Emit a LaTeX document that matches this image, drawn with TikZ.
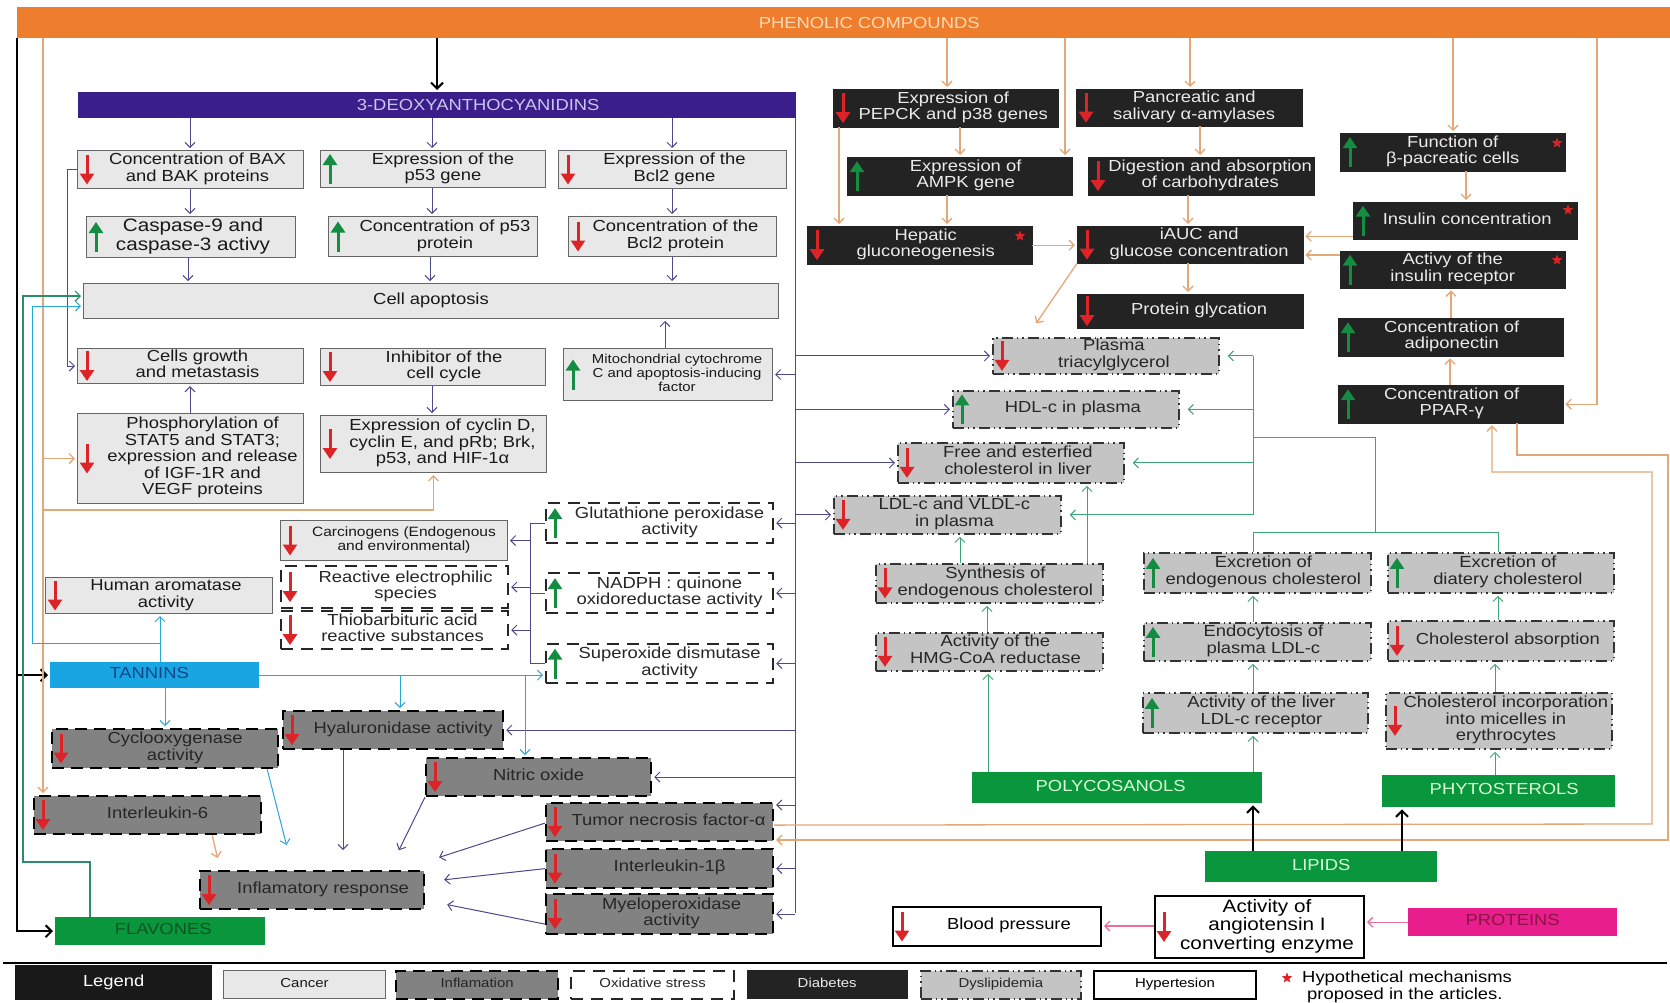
\documentclass[tikz,border=0pt]{standalone}
\usepackage{fontspec}
\setmainfont{Liberation Sans}[FakeStretch=1.15]
\usetikzlibrary{arrows.meta,shapes.geometric}
\definecolor{orng}{RGB}{238,125,45}
\definecolor{peach}{RGB}{255,218,180}
\definecolor{indigo}{RGB}{58,30,138}
\definecolor{lav}{RGB}{205,195,240}
\definecolor{ptan}{RGB}{228,168,120}
\definecolor{purp}{RGB}{78,72,140}
\definecolor{grln}{RGB}{60,165,115}
\definecolor{blln}{RGB}{40,168,218}
\definecolor{tlln}{RGB}{45,140,105}
\definecolor{pkln}{RGB}{232,110,155}
\definecolor{cang}{RGB}{232,232,232}
\definecolor{infg}{RGB}{130,130,130}
\definecolor{dysg}{RGB}{196,196,196}
\definecolor{diab}{RGB}{35,35,35}
\definecolor{rdar}{RGB}{220,35,40}
\definecolor{gnar}{RGB}{20,140,65}
\definecolor{grp}{RGB}{10,150,60}
\definecolor{tanb}{RGB}{25,165,225}
\definecolor{magn}{RGB}{232,30,140}
\newcommand\fsn{\fontsize{16}{16.5}\selectfont}
\newcommand\fsl{\fontsize{13}{14}\selectfont}
\newcommand\bx[8]{\node[#1,minimum width={#5-#3},minimum height={#6-#4},anchor=north west] (#2) at (#3,#4) {\hspace*{#7pt}\begin{tabular}{@{}c@{}}#8\end{tabular}};}
\newcommand\ardn[1]{\draw[redarr] ([xshift=10pt,yshift=15pt]#1.west) -- ([xshift=10pt,yshift=-15pt]#1.west);}
\newcommand\arup[1]{\draw[grnarr] ([xshift=10pt,yshift=-15pt]#1.west) -- ([xshift=10pt,yshift=15pt]#1.west);}
\tikzset{
 base/.style={rectangle, inner sep=1pt, align=center, font=\fsn},
 cb/.style={base, fill=cang, draw=black!60, line width=1pt, text=black!90},
 inf/.style={base, fill=infg, draw=black, line width=2.2pt, dash pattern=on 12pt off 7pt, text=black!85},
 ox/.style={base, fill=white, draw=black!85, line width=2.2pt, dash pattern=on 12pt off 8pt, text=black!85},
 db/.style={base, fill=diab, draw=diab, text=white!92!black},
 dy/.style={base, fill=dysg, draw=black!80, line width=1.8pt, dash pattern=on 11pt off 4pt on 1.5pt off 4pt on 1.5pt off 4pt, text=black!85},
 hy/.style={base, fill=white, draw=black, line width=2pt, text=black},
 grpb/.style={base, inner sep=0pt},
 redarr/.style={draw=rdar, line width=3pt, -{Triangle[length=11pt,width=14pt]}},
 grnarr/.style={draw=gnar, line width=3pt, -{Triangle[length=11pt,width=14pt]}},
 conn/.style={line width=1pt, -{Straight Barb[length=5pt,width=10pt]}, shorten >=2pt},
 pa/.style={conn, draw=purp},
 pl/.style={line width=1pt, draw=purp},
 oa/.style={conn, draw=ptan, line width=1.3pt},
 ga/.style={conn, draw=grln},
 gl/.style={line width=1pt, draw=grln},
 ba/.style={conn, draw=blln},
 ta/.style={conn, draw=tlln, line width=1.2pt},
 pk/.style={conn, draw=pkln, line width=1.3pt},
 ka/.style={line width=2pt, draw=black, -{Straight Barb[length=6pt,width=12pt]}, shorten >=2pt},
 rstar/.style={star, star points=5, star point ratio=2.3, fill=rdar, inner sep=0pt, minimum size=11pt}
}
\begin{document}
\begin{tikzpicture}[x=1pt,y=-1pt]
\fill[white] (0,0) rectangle (1670,1002);
\useasboundingbox (0,0) rectangle (1670,1002);

% headers
\node[rectangle, fill=orng, minimum width=1653, minimum height=31, anchor=north west, inner sep=0, text=peach, font=\fsn] (phenbar) at (17,7) {\hspace*{51pt}PHENOLIC COMPOUNDS};
\node[rectangle, fill=indigo, minimum width=718, minimum height=26, anchor=north west, inner sep=0, text=lav, font=\fsn] (deoxy) at (78,92) {\hspace*{82pt}3-DEOXYANTHOCYANIDINS};

% cancer
\bx{cb}{bax}{77}{150}{303}{188}{14}{Concentration of BAX\\and BAK proteins}
\bx{cb}{p53g}{320}{150}{545}{187}{20}{Expression of the\\p53 gene}
\bx{cb}{bcl2g}{558}{150}{786}{188}{4}{Expression of the\\Bcl2 gene}
\bx{cb,font=\fontsize{18}{19}\selectfont}{casp}{86}{216}{295}{257}{4}{Caspase-9 and\\caspase-3 activy}
\bx{cb}{p53p}{328}{216}{537}{256}{24}{Concentration of p53\\protein}
\bx{cb}{bcl2p}{568}{216}{776}{256}{6}{Concentration of the\\Bcl2 protein}
\bx{cb}{apop}{83}{283}{778}{318}{0}{Cell apoptosis}
\bx{cb}{cells}{77}{348}{303}{383}{14}{Cells growth\\and metastasis}
\bx{cb}{inhib}{320}{348}{545}{385}{22}{Inhibitor of the\\cell cycle}
\bx{cb,font=\fontsize{13}{14}\selectfont}{mito}{563}{348}{772}{400}{18}{Mitochondrial cytochrome\\C and apoptosis-inducing\\factor}
\bx{cb}{phos}{77}{413}{303}{503}{24}{Phosphorylation of\\STAT5 and STAT3;\\expression and release\\of IGF-1R and\\VEGF proteins}
\bx{cb}{cyc}{320}{415}{546}{472}{18}{Expression of cyclin D,\\cyclin E, and pRb; Brk,\\p53, and HIF-1α}
\bx{cb}{arom}{45}{577}{272}{613}{14}{Human aromatase\\activity}
\bx{cb,font=\fontsize{13.5}{14.5}\selectfont}{carc}{280}{520}{507}{560}{20}{Carcinogens (Endogenous\\and environmental)}

% oxidative stress
\bx{ox}{reac}{280}{565}{507}{607}{22}{Reactive electrophilic\\species}
\bx{ox}{thio}{280}{610}{507}{648}{16}{Thiobarbituric acid\\reactive substances}
\bx{ox}{glut}{545}{502}{772}{542}{20}{Glutathione peroxidase\\activity}
\bx{ox}{nadph}{545}{572}{772}{612}{20}{NADPH : quinone\\oxidoreductase activity}
\bx{ox}{sod}{545}{643}{772}{682}{20}{Superoxide dismutase\\activity}

% inflammation
\bx{inf}{cox}{51}{728}{277}{767}{20}{Cyclooxygenase\\activity}
\bx{inf}{il6}{33}{795}{260}{833}{20}{Interleukin-6}
\bx{inf}{hyal}{282}{710}{502}{748}{20}{Hyaluronidase activity}
\bx{inf}{no}{425}{757}{650}{795}{0}{Nitric oxide}
\bx{inf}{infl}{199}{870}{423}{908}{22}{Inflamatory response}
\bx{inf}{tnf}{545}{802}{772}{840}{18}{Tumor necrosis factor-α}
\bx{inf}{il1}{545}{848}{772}{887}{20}{Interleukin-1β}
\bx{inf}{mpo}{545}{893}{772}{933}{24}{Myeloperoxidase\\activity}

% diabetes
\bx{db}{pepck}{833}{89}{1058}{127}{15}{Expression of\\PEPCK and p38 genes}
\bx{db}{panc}{1076}{89}{1302}{126}{10}{Pancreatic and\\salivary α-amylases}
\bx{db}{ampk}{847}{157}{1072}{195}{12}{Expression of\\AMPK gene}
\bx{db}{dig}{1088}{157}{1314}{195}{18}{Digestion and absorption\\of carbohydrates}
\bx{db}{hep}{807}{226}{1032}{264}{12}{Hepatic\\gluconeogenesis}
\bx{db}{iauc}{1077}{226}{1303}{263}{18}{iAUC and\\glucose concentration}
\bx{db}{glyc}{1077}{294}{1303}{328}{18}{Protein glycation}
\bx{db}{func}{1340}{133}{1565}{171}{0}{Function of\\β-pacreatic cells}
\bx{db}{ins}{1353}{202}{1577}{239}{4}{Insulin concentration}
\bx{db}{insr}{1340}{251}{1565}{288}{0}{Activy of the\\insulin receptor}
\bx{db}{adip}{1338}{318}{1563}{356}{2}{Concentration of\\adiponectin}
\bx{db}{ppar}{1338}{385}{1563}{423}{2}{Concentration of\\PPAR-γ}

% dyslipidemia
\bx{dy}{ptag}{992}{337}{1218}{373}{16}{Plasma\\triacylglycerol}
\bx{dy}{hdl}{952}{390}{1178}{427}{14}{HDL-c in plasma}
\bx{dy}{free}{897}{442}{1123}{482}{14}{Free and esterfied\\cholesterol in liver}
\bx{dy}{ldl}{833}{495}{1060}{533}{14}{LDL-c and VLDL-c\\in plasma}
\bx{dy}{synth}{875}{563}{1102}{602}{12}{Synthesis of\\endogenous cholesterol}
\bx{dy}{hmg}{875}{632}{1102}{670}{12}{Activity of the\\HMG-CoA reductase}
\bx{dy}{exen}{1143}{552}{1370}{592}{12}{Excretion of\\endogenous cholesterol}
\bx{dy}{exdi}{1387}{552}{1613}{592}{14}{Excretion of\\diatery cholesterol}
\bx{dy}{endo}{1143}{622}{1370}{660}{12}{Endocytosis of\\plasma LDL-c}
\bx{dy}{abs}{1387}{620}{1613}{660}{14}{Cholesterol absorption}
\bx{dy}{ldlr}{1142}{692}{1367}{732}{12}{Activity of the liver\\LDL-c receptor}
\bx{dy}{mic}{1385}{692}{1611}{748}{14}{Cholesterol incorporation\\into micelles in\\erythrocytes}

% hypertension
\bx{hy}{bp}{892}{906}{1100}{945}{24}{Blood pressure}
\bx{hy,font=\fontsize{18}{18.5}\selectfont}{ace}{1154}{895}{1363}{957}{15}{Activity of\\angiotensin I\\converting enzyme}

% compound groups
\bx{grpb,fill=grp,text={rgb,255:red,215;green,255;blue,215}}{poly}{972}{772}{1262}{803}{-13}{POLYCOSANOLS}
\bx{grpb,fill=grp,text={rgb,255:red,215;green,255;blue,215}}{phyto}{1382}{775}{1615}{807}{11}{PHYTOSTEROLS}
\bx{grpb,fill=grp,text={rgb,255:red,215;green,255;blue,215}}{lipids}{1205}{851}{1437}{882}{0}{LIPIDS}
\bx{grpb,fill=tanb,text={rgb,255:red,15;green,70;blue,140}}{tann}{50}{662}{259}{688}{-11}{TANNINS}
\bx{grpb,fill=grp,text={rgb,255:red,15;green,85;blue,35}}{flav}{55}{917}{265}{945}{6}{FLAVONES}
\bx{grpb,fill=magn,text={rgb,255:red,140;green,20;blue,70}}{prot}{1408}{908}{1617}{936}{0}{PROTEINS}

% box arrows
\foreach \n in {bax,bcl2g,bcl2p,cells,inhib,phos,cyc,arom,carc,reac,thio,cox,il6,hyal,no,infl,tnf,il1,mpo,pepck,panc,dig,hep,iauc,glyc,ptag,free,ldl,synth,hmg,abs,mic,bp,ace} {\ardn{\n}}
\foreach \n in {p53g,casp,p53p,mito,glut,nadph,sod,ampk,func,ins,insr,adip,ppar,hdl,exen,exdi,endo,ldlr} {\arup{\n}}

% stars
\node[rstar] (st1) at (1020,236) {};
\node[rstar] (st2) at (1557,143) {};
\node[rstar] (st3) at (1568,210) {};
\node[rstar] (st4) at (1557,260) {};

% black
\draw[ka] (17,0 |- phenbar.south) |- (flav.west);
\draw[ka] (17,0 |- tann.west) -- (tann.west);
\draw[ka] (437,0 |- phenbar.south) -- (437,0 |- deoxy.north);

% purple 3-deoxy
\draw[pa] (190,0 |- deoxy.south) -- (190,0 |- bax.north);
\draw[pa] (432,0 |- deoxy.south) -- (432,0 |- p53g.north);
\draw[pa] (672,0 |- deoxy.south) -- (672,0 |- bcl2g.north);
\draw[pa] (190,0 |- bax.south) -- (190,0 |- casp.north);
\draw[pa] (188,0 |- casp.south) -- (188,0 |- apop.north);
\draw[pa] (432,0 |- p53g.south) -- (432,0 |- p53p.north);
\draw[pa] (430,0 |- p53p.south) -- (430,0 |- apop.north);
\draw[pa] (672,0 |- bcl2g.south) -- (672,0 |- bcl2p.north);
\draw[pa] (672,0 |- bcl2p.south) -- (672,0 |- apop.north);
\draw[pa] (665,0 |- mito.north) -- (665,0 |- apop.south);
\draw[pa] (bax.west) -- (67,0 |- bax.west) |- (cells.west);
\draw[pa] (190,0 |- phos.north) -- (190,0 |- cells.south);
\draw[pa] (432,0 |- inhib.south) -- (432,0 |- cyc.north);
\coordinate (mainbot) at (795,913);
\draw[pl] (795,0 |- deoxy.south) -- (mainbot);
\foreach \n in {mito,glut,nadph,sod,hyal,no,il1,mpo} {\draw[pa] (795,0 |- \n.east) -- (\n.east);}
\draw[pa] (795,805) -- (tnf.east |- 0,805);
\foreach \n in {ptag,hdl,free,ldl} {\draw[pa] (795,0 |- \n.west) -- (\n.west);}

% oxidative internal
\draw[pl] (glut.west) -- (530,0 |- glut.west) -- (530,0 |- sod.west) -- (sod.west);
\draw[pl] (nadph.west) -- (530,0 |- nadph.west);
\foreach \n in {carc,reac,thio} {\draw[pa] (530,0 |- \n.east) -- (\n.east);}

% orange left
\draw[oa] (43,0 |- phenbar.south) -- (43,0 |- il6.north);
\draw[oa] (43,0 |- phos.west) -- (phos.west);
\draw[oa] (43,510) -| (cyc.south);

% tannins
\draw[ba] (160,0 |- tann.north) -- (160,0 |- arom.south);
\draw[ba] (160,643) -- (32,643) |- ([yshift=-5pt]apop.west);
\draw[ba] (165,0 |- tann.south) -- (165,0 |- cox.north);
\draw[ba] (tann.east) -- (tann.east -| sod.west);
\draw[ba] (400,0 |- tann.east) -- (400,0 |- hyal.north);
\draw[ba] (525,0 |- tann.east) -- (525,0 |- no.north);
\draw[ba] ([xshift=-12pt]cox.south east) -- ([xshift=88pt,yshift=23pt]infl.north west);

% flavones
\draw[ta] (90,0 |- flav.north) |- (23,862) |- ([yshift=5pt]apop.west);

% inflammation links
\draw[oa] ([xshift=-50pt]il6.south east) -- ([xshift=19pt,yshift=10pt]infl.north west);
\draw[pa] (343,0 |- hyal.south) -- ([xshift=144pt,yshift=18pt]infl.north west);
\draw[pa] (no.south west) -- ([xshift=199pt,yshift=18pt]infl.north west);
\draw[pa] ([yshift=-1pt]tnf.west) -- ([xshift=12pt,yshift=12pt]infl.north east);
\draw[pa] (il1.west) -- ([xshift=17pt,yshift=-10pt]infl.north east);
\draw[pa] ([yshift=-10pt]mpo.west) -- ([xshift=20pt,yshift=6pt]infl.south east);

% diabetes
\draw[oa] (947,0 |- phenbar.south) -- (947,0 |- pepck.north);
\draw[oa] (1065,0 |- phenbar.south) -- (1065,0 |- ampk.north);
\draw[oa] (1190,0 |- phenbar.south) -- (1190,0 |- panc.north);
\draw[oa] (960,0 |- pepck.south) -- (960,0 |- ampk.north);
\draw[oa] (839,0 |- pepck.south) -- (839,0 |- hep.north);
\draw[oa] (947,0 |- ampk.south) -- (947,0 |- hep.north);
\draw[oa] (hep.east) -- (hep.east -| iauc.west);
\draw[oa] (1200,0 |- panc.south) -- (1200,0 |- dig.north);
\draw[oa] (1188,0 |- dig.south) -- (1188,0 |- iauc.north);
\draw[oa] (1188,0 |- iauc.south) -- (1188,0 |- glyc.north);
\draw[oa] (iauc.south west) -- ([xshift=43pt,yshift=12pt]ptag.north west);
\draw[oa] (1453,0 |- phenbar.south) -- (1453,0 |- func.north);
\draw[oa] (1466,0 |- func.south) -- (1466,0 |- ins.north);
\draw[oa] ([yshift=3pt]ins.south west) -- ([yshift=3pt]ins.south west -| iauc.east);
\draw[oa] ([yshift=-4pt]insr.north west) -- ([yshift=-4pt]insr.north west -| iauc.east);
\draw[oa] (1451,0 |- adip.north) -- (1451,0 |- insr.south);
\draw[oa] (1450,0 |- ppar.north) -- (1450,0 |- adip.south);
\draw[oa] (1597,0 |- phenbar.south) |- (ppar.east);
\draw[oa] (1517,0 |- ppar.south) -- (1517,455) -- (1668,455) -- (1668,840) -- (tnf.east |- 0,840);
\draw[oa] ([yshift=-3pt]tnf.east) -- (1652,824) -- (1652,472) -- (1492,472) -- (1492,0 |- ppar.south);

% dyslipidemia
\draw[ga] (988,0 |- poly.north) -- (988,0 |- hmg.south);
\draw[ga] (987,0 |- hmg.north) -- (987,0 |- synth.south);
\draw[ga] (960,0 |- synth.north) -- (960,0 |- ldl.south);
\draw[ga] (1087,0 |- synth.north) -- (1087,0 |- free.south);
\draw[ga] (1253,0 |- poly.north) -- (1253,0 |- ldlr.south);
\draw[ga] (1253,0 |- ldlr.north) -- (1253,0 |- endo.south);
\draw[ga] (1253,0 |- endo.north) -- (1253,0 |- exen.south);
\draw[ga] (1495,0 |- phyto.north) -- (1495,0 |- mic.south);
\draw[ga] (1495,0 |- mic.north) -- (1495,0 |- abs.south);
\draw[ga] (1498,0 |- abs.north) -- (1498,0 |- exdi.south);
\draw[gl] (1253,0 |- exen.north) -- (1253,532) -- (1498,532) -- (1498,0 |- exdi.north);
\draw[gl] (1375,532) -- (1375,437) -- (1253,437);
\draw[gl] (1253,0 |- ptag.east) -- (1253,0 |- ldl.east);
\foreach \n in {ptag,hdl,free,ldl} {\draw[ga,shorten >=8pt] (1253,0 |- \n.east) -- (\n.east);}

% lipids
\draw[ka] (1253,0 |- lipids.north) -- (1253,0 |- poly.south);
\draw[ka] (1402,0 |- lipids.north) -- (1402,0 |- phyto.south);

% hypertension
\draw[pk] (prot.west) -- (prot.west -| ace.east);
\draw[pk] ([yshift=1pt]ace.west) -- ([yshift=1pt]ace.west -| bp.east);

% legend
\draw[line width=2pt] (3,963) -- (1667,963);
\bx{grpb,fill={rgb,255:red,25;green,25;blue,25},text=white}{leg}{15}{965}{212}{1000}{0}{Legend}
\bx{cb,font=\fsl}{lcan}{223}{970}{385}{998}{0}{Cancer}
\bx{inf,font=\fsl}{linf}{395}{970}{557}{998}{0}{Inflamation}
\bx{ox,font=\fsl}{lox}{570}{970}{733}{998}{0}{Oxidative stress}
\bx{db,font=\fsl}{ldb}{747}{970}{907}{998}{0}{Diabetes}
\bx{dy,font=\fsl}{ldy}{920}{970}{1080}{998}{0}{Dyslipidemia}
\bx{hy,font=\fsl}{lhy}{1093}{970}{1255}{998}{0}{Hypertesion}
\node[rstar] (st5) at (1287,978) {};
\node[anchor=west, align=left, font=\fsn, inner sep=0pt] (hyp) at (1302,987) {Hypothetical mechanisms\\\hspace*{5pt}proposed in the articles.};
\end{tikzpicture}
\end{document}
